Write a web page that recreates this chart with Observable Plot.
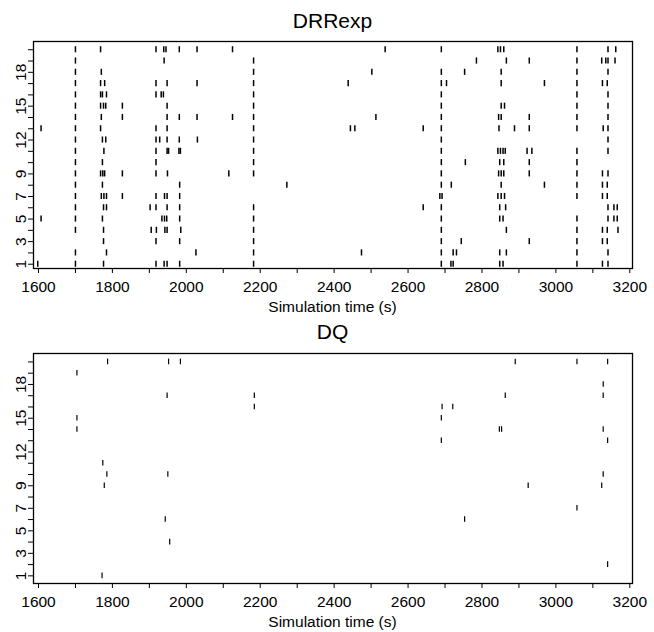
<!DOCTYPE html>
<html><head><meta charset="utf-8">
<script src="https://cdn.jsdelivr.net/npm/d3@7"></script>
<script src="https://cdn.jsdelivr.net/npm/@observablehq/plot@0.6"></script>
<style>
body{margin:0;background:#fff;font-family:"Liberation Sans",Arial,Helvetica,sans-serif;}
#wrap{position:relative;width:654px;height:632px;overflow:hidden;background:#fff;}
.title{position:absolute;left:33px;width:599px;text-align:center;font-size:21px;color:#000;line-height:1;}
.xlabel{position:absolute;left:33px;width:599px;text-align:center;font-size:15.5px;color:#000;line-height:1;}
.panel{position:absolute;left:0;}
</style></head><body>
<div id="wrap">
  <div class="panel" id="p1" style="top:0px"></div>
  <div class="panel" id="p2" style="top:312px"></div>
  <div class="title" style="top:10px">DRRexp</div>
  <div class="xlabel" style="top:299px">Simulation time (s)</div>
  <div class="title" style="top:321px">DQ</div>
  <div class="xlabel" style="top:614px">Simulation time (s)</div>
</div>
<script>
// ---- data ----
const neurons = d3.range(1, 21);
const yLabelTicks = [1, 3, 5, 7, 9, 12, 15, 18];
const xTicks = d3.range(1600, 3201, 100);
const xLabelTicks = [1600, 1800, 2000, 2200, 2400, 2600, 2800, 3000, 3200];

// spike times (s) per neuron 1..20, DRRexp panel
const drrexpSpikes = [
  [1598, 1700, 1776, 1918, 1940, 1948, 1982, 2182, 2690, 2716, 2722, 2848, 2857, 3057, 3126, 3141],
  [1700, 1784, 2026, 2182, 2474, 2690, 2722, 2731, 2848, 2866, 3057, 3141],
  [1776, 1918, 1982, 2182, 2690, 2744, 2928, 3057, 3126, 3139],
  [1700, 1776, 1905, 1919, 1942, 1948, 1985, 2182, 2690, 2866, 3057, 3126, 3139, 3168],
  [1607, 1700, 1773, 1934, 1941, 1947, 1982, 2182, 2690, 2848, 2857, 3057, 3141, 3157, 3166],
  [1700, 1776, 1784, 1902, 1918, 1948, 1982, 2182, 2641, 2690, 2848, 2864, 3141, 3157, 3166],
  [1700, 1770, 1777, 1784, 1827, 1918, 1941, 1948, 1982, 2686, 2692, 2843, 2852, 2861, 3057, 3126, 3139],
  [1700, 1773, 1982, 2272, 2690, 2717, 2852, 2969, 3057, 3126, 3139],
  [1700, 1768, 1774, 1779, 1827, 1918, 1949, 2115, 2182, 2690, 2845, 2852, 2859, 2928, 3057, 3126, 3141],
  [1700, 1773, 1918, 2182, 2690, 2755, 2848, 2859, 2928, 3057],
  [1700, 1777, 1918, 1948, 1952, 1980, 1984, 2182, 2690, 2843, 2850, 2857, 2863, 2922, 2935, 3057, 3141],
  [1700, 1773, 1782, 1918, 1928, 1948, 1981, 2030, 2182, 2690, 3141],
  [1607, 1700, 1768, 1918, 1948, 2182, 2444, 2456, 2641, 2690, 2846, 2888, 2928, 3057, 3128, 3141],
  [1700, 1770, 1827, 1948, 1981, 2029, 2125, 2182, 2513, 2690, 2845, 2852, 2928, 3057, 3141],
  [1700, 1768, 1776, 1782, 1827, 1948, 2182, 2690, 2852, 2861, 3057, 3141],
  [1700, 1768, 1773, 1784, 1918, 1932, 1938, 2182, 2690, 3057, 3141],
  [1700, 1768, 1779, 1918, 1948, 2029, 2182, 2438, 2690, 2704, 2852, 2969, 3057, 3126, 3139],
  [1700, 1770, 2182, 2502, 2690, 2753, 2852, 3057, 3141],
  [1700, 1940, 2182, 2785, 2866, 2928, 3057, 3124, 3135, 3141, 3160],
  [1700, 1768, 1918, 1939, 1945, 1981, 2029, 2125, 2538, 2690, 2843, 2850, 2859, 3057, 3141, 3162]
];

// spike times (s) per neuron 1..20, DQ panel
const dqSpikes = [
  [1772],
  [3140],
  [],
  [1955],
  [],
  [1943, 2753],
  [3057],
  [],
  [1778, 2925, 3124],
  [1785, 1950, 3128],
  [1774],
  [],
  [2690, 3140],
  [1704, 2847, 2853, 3128],
  [1704, 2690],
  [2184, 2692, 2721],
  [1948, 2184, 2863, 3128],
  [3128],
  [1704],
  [1787, 1952, 1984, 2890, 3057, 3140]
];

// ---- drawing ----
const xDomain = [1586.5, 3207.3];
const fontFamily = '"Liberation Sans", Arial, Helvetica, sans-serif';

function panel(spikes, {height, marginTop, marginBottom, yDomain, half, sw}) {
  const data = spikes.flatMap((ts, i) => ts.map(t => ({neuron: neurons[i], t})));
  return Plot.plot({
    width: 654,
    height,
    marginLeft: 33,
    marginRight: 22,
    marginTop,
    marginBottom,
    style: {fontFamily, fontSize: "15.5px", color: "#000", background: "transparent", overflow: "visible"},
    x: {domain: xDomain},
    y: {domain: yDomain},
    marks: [
      Plot.ruleX(data, {x: "t", y1: d => d.neuron - half, y2: d => d.neuron + half, stroke: "#000", strokeWidth: sw}),
      Plot.frame({stroke: "#000", strokeWidth: 1.3}),
      Plot.axisX({ticks: xTicks, tickFormat: d => xLabelTicks.includes(d) ? String(d) : "", tickSize: 5, tickPadding: 7, label: null}),
      Plot.axisY({ticks: neurons, tickFormat: d => yLabelTicks.includes(d) ? String(d) : "", tickSize: 5, tickRotate: -90, tickPadding: 3, label: null})
    ]
  });
}

document.getElementById("p1").append(panel(drrexpSpikes, {
  height: 300, marginTop: 41, marginBottom: 32, yDomain: [0.62, 20.73], half: 0.27, sw: 1.5
}));
document.getElementById("p2").append(panel(dqSpikes, {
  height: 320, marginTop: 41, marginBottom: 49, yDomain: [0.32, 20.75], half: 0.25, sw: 1.2
}));
</script>
</body></html>
